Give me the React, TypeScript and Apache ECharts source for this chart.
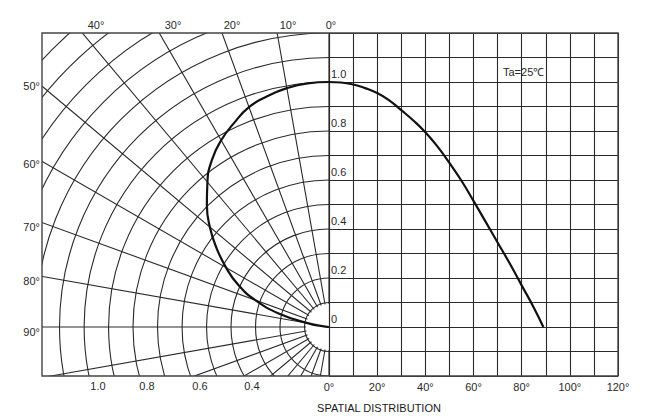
import React, { useEffect, useRef } from 'react';
import * as echarts from 'echarts';

// ---- data ----
const polarAngles = [0, 5, 10, 15, 20, 25, 30, 35, 40, 45, 50, 55, 60, 65, 70, 75, 80, 85, 90];
const polarIntensity = [1.0, 0.998, 0.99, 0.975, 0.955, 0.918, 0.88, 0.833, 0.772, 0.705, 0.635, 0.56, 0.485, 0.41, 0.32, 0.21, 0.085, 0.015, 0];

const cartAngles = [0, 5, 10, 15, 20, 25, 30, 35, 40, 45, 50, 55, 60, 65, 70, 75, 80, 85, 89];
const cartIntensity = [1.0, 0.998, 0.99, 0.975, 0.955, 0.925, 0.885, 0.843, 0.795, 0.737, 0.67, 0.597, 0.515, 0.43, 0.345, 0.26, 0.17, 0.08, 0];

const topAngleLabels = ['40°', '30°', '20°', '10°', '0°'];
const leftAngleLabels = ['50°', '60°', '70°', '80°', '90°'];
const radiusLabels = ['1.0', '0.8', '0.6', '0.4'];
const yLabelValues = [0, 0.2, 0.4, 0.6, 0.8, 1.0];
const xLabelStep = 20;
const annotation = 'Ta=25℃';
const footer = 'SPATIAL DISTRIBUTION';

// ---- layout ----
const W = 658;
const H = 416;
const CX = 329;
const CY = 327;
const PX_PER_UNIT = 245;
const BOX = { left: 42, top: 33, right: 618, bottom: 376 };
const topLabelX = [96, 173, 232, 288, 331];
const leftLabelY = [86, 164, 227, 281, 332];
const radiusLabelX = [98, 147, 200, 252];

const FONT = '"Liberation Sans", Arial, Helvetica, sans-serif';
const LINE = '#2a2a2a';
const TXT = '#2a2a2a';
const LW = 1.1;

export default function App() {
  const ref = useRef<HTMLDivElement>(null);

  useEffect(() => {
    document.body.style.margin = '0';
    if (!ref.current) return;
    const chart = echarts.init(ref.current, undefined, { renderer: 'svg' });

    const textEl = (text: string, x: number, y: number, align: string, extra: any = {}) => ({
      type: 'text',
      x,
      y,
      z: 80,
      silent: true,
      style: {
        text,
        fill: TXT,
        font: `11px ${FONT}`,
        textAlign: align,
        textVerticalAlign: 'middle',
        verticalAlign: 'middle',
        ...extra,
      },
    });

    const graphics: any[] = [
      // half disc hiding radial lines inside the innermost circle
      {
        type: 'sector',
        z: 1,
        silent: true,
        shape: { cx: CX, cy: CY, r0: 0, r: 0.1 * PX_PER_UNIT - 1.5, startAngle: Math.PI / 2, endAngle: Math.PI * 1.5, clockwise: true },
        style: { fill: '#fff' },
      },
      // masks outside the frame
      { type: 'rect', z: 50, silent: true, shape: { x: 0, y: 0, width: W, height: BOX.top }, style: { fill: '#fff' } },
      { type: 'rect', z: 50, silent: true, shape: { x: 0, y: 0, width: BOX.left, height: H }, style: { fill: '#fff' } },
      { type: 'rect', z: 50, silent: true, shape: { x: 0, y: BOX.bottom, width: W, height: H - BOX.bottom }, style: { fill: '#fff' } },
      { type: 'rect', z: 50, silent: true, shape: { x: BOX.right, y: 0, width: W - BOX.right, height: H }, style: { fill: '#fff' } },
      // frame
      {
        type: 'rect',
        z: 70,
        silent: true,
        shape: { x: BOX.left, y: BOX.top, width: BOX.right - BOX.left, height: BOX.bottom - BOX.top },
        style: { fill: 'none', stroke: '#444', lineWidth: 1.4 },
      },
      ...topAngleLabels.map((t, i) => textEl(t, topLabelX[i], 25, 'center')),
      ...leftAngleLabels.map((t, i) => textEl(t, 40, leftLabelY[i], 'right')),
      ...radiusLabels.map((t, i) => textEl(t, radiusLabelX[i], 386, 'center')),
      textEl(annotation, 503, 72, 'left'),
      textEl(footer, 379, 408, 'center', { fill: '#1a1a1a' }),
    ];

    chart.setOption({
      animation: false,
      backgroundColor: '#fff',
      grid: {
        left: CX,
        top: BOX.top,
        right: W - BOX.right,
        bottom: H - BOX.bottom,
        show: false,
        containLabel: false,
        outerBoundsMode: 'none',
      },
      xAxis: {
        type: 'value',
        min: 0,
        max: 120,
        interval: 10,
        z: 60,
        axisLine: { show: true, lineStyle: { color: LINE, width: LW } },
        axisTick: { show: false },
        splitLine: { show: true, lineStyle: { color: LINE, width: LW } },
        axisLabel: {
          show: true,
          showMinLabel: true,
          showMaxLabel: true,
          margin: 5,
          color: TXT,
          fontSize: 11,
          fontFamily: FONT,
          formatter: (v: number) => (Math.round(v) % xLabelStep === 0 ? `${Math.round(v)}°` : ''),
        },
      },
      yAxis: {
        type: 'value',
        min: -0.2,
        max: 1.2,
        interval: 0.1,
        z: 60,
        axisLine: { show: true, lineStyle: { color: LINE, width: LW } },
        axisTick: { show: false },
        splitLine: { show: true, lineStyle: { color: LINE, width: LW } },
        axisLabel: {
          show: true,
          inside: true,
          margin: 2,
          color: TXT,
          fontSize: 11,
          fontFamily: FONT,
          verticalAlign: 'bottom',
          padding: [0, 0, 3, 0],
          formatter: (v: number) => {
            const t = Math.round(v * 10) / 10;
            const hit = yLabelValues.find((y) => Math.abs(y - t) < 1e-6);
            if (hit === undefined) return '';
            return hit === 0 ? '0' : hit.toFixed(1);
          },
        },
      },
      polar: {
        center: [CX, CY],
        radius: 1.7 * PX_PER_UNIT,
      },
      angleAxis: {
        type: 'value',
        min: 0,
        max: 180,
        interval: 10,
        startAngle: 90,
        endAngle: 270,
        clockwise: false,
        z: 0,
        axisLine: { show: false },
        axisTick: { show: false },
        axisLabel: { show: false },
        splitLine: { show: true, lineStyle: { color: LINE, width: LW } },
      },
      radiusAxis: {
        type: 'value',
        min: 0,
        max: 1.7,
        interval: 0.1,
        z: 0,
        axisLine: { show: false },
        axisTick: { show: false },
        axisLabel: { show: false },
        splitLine: { show: true, lineStyle: { color: LINE, width: LW } },
      },
      graphic: graphics,
      series: [
        {
          type: 'line',
          coordinateSystem: 'polar',
          z: 3,
          smooth: 0.5,
          showSymbol: false,
          silent: true,
          lineStyle: { color: '#111', width: 2.2 },
          data: polarAngles.map((a, i) => [polarIntensity[i], a]),
        },
        {
          type: 'line',
          xAxisIndex: 0,
          yAxisIndex: 0,
          z: 65,
          smooth: 0.5,
          showSymbol: false,
          silent: true,
          lineStyle: { color: '#111', width: 2.2 },
          data: cartAngles.map((a, i) => [a, cartIntensity[i]]),
        },
      ],
    });

    return () => chart.dispose();
  }, []);

  return <div ref={ref} style={{ width: W, height: H }} />;
}
